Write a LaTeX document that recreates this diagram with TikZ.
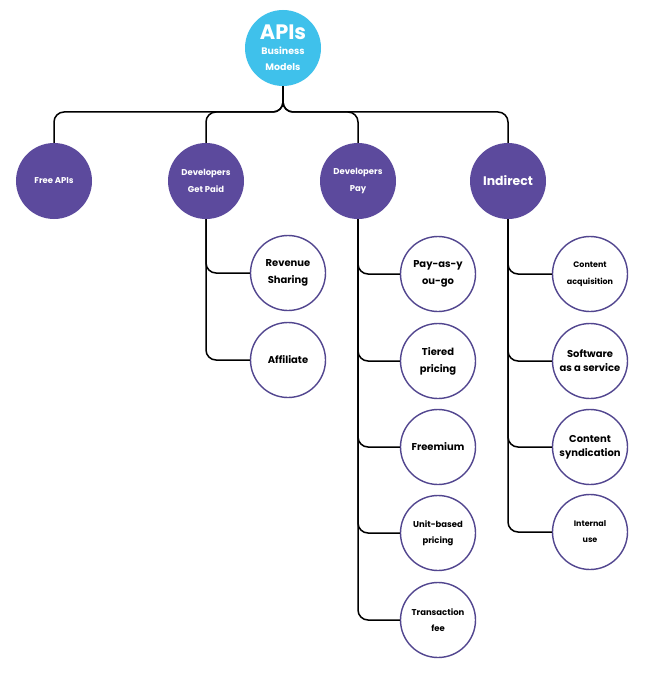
\documentclass[tikz,border=0pt]{standalone}
\usepackage{fontspec}
\setmainfont{Poppins}
\definecolor{apiblue}{HTML}{3FC1EB}
\definecolor{apipurple}{HTML}{5C4A9D}
\definecolor{ringpurple}{HTML}{52468F}
\begin{document}
\begin{tikzpicture}[x=1bp,y=-1bp,
  conn/.style={draw=black,line width=1.5bp,rounded corners=10bp},
  rootc/.style={circle,fill=apiblue,minimum size=76bp,inner sep=0pt,text=white,align=center,font=\bfseries},
  topc/.style={circle,fill=apipurple,minimum size=76bp,inner sep=0pt,text=white,align=center,font=\bfseries},
  leafc/.style={circle,draw=ringpurple,line width=1.4bp,fill=white,minimum size=75bp,inner sep=0pt,text=black,align=center,font=\bfseries}]
\useasboundingbox (0,0) rectangle (653,680);
\fill[white] (0,0) rectangle (653,680);
% root
\node[rootc,font=\bfseries\fontsize{9.5}{16}\selectfont] (root) at (283,48) {{\fontsize{21}{21}\selectfont APIs}\\[-1bp]Business\\Models};
% top level
\node[topc,font=\bfseries\fontsize{8.5}{10}\selectfont] (free) at (54,181) {Free APIs};
\node[topc,font=\bfseries\fontsize{8.5}{17}\selectfont] (paid) at (206,181) {Developers\\Get Paid};
\node[topc,font=\bfseries\fontsize{8.5}{17}\selectfont] (pay) at (358,181) {Developers\\Pay};
\node[topc,font=\bfseries\fontsize{12.5}{14}\selectfont] (ind) at (508,181) {Indirect};
\coordinate (bus) at (283,112);
% leaves: developers get paid
\node[leafc,font=\bfseries\fontsize{10}{17}\selectfont] (rev) at (288,273) {Revenue\\Sharing};
\node[leafc,font=\bfseries\fontsize{10}{12}\selectfont] (aff) at (288,360) {Affiliate};
% leaves: developers pay
\node[leafc,font=\bfseries\fontsize{10}{17}\selectfont] (payg) at (438,274) {Pay-as-y\\ou-go};
\node[leafc,font=\bfseries\fontsize{10}{17}\selectfont] (tier) at (438,361) {Tiered\\pricing};
\node[leafc,font=\bfseries\fontsize{10}{12}\selectfont] (free2) at (438,447) {Freemium};
\node[leafc,font=\bfseries\fontsize{8.5}{16}\selectfont] (unit) at (438,533) {Unit-based\\pricing};
\node[leafc,font=\bfseries\fontsize{8.5}{16}\selectfont] (trans) at (438,620) {Transaction\\fee};
% leaves: indirect
\node[leafc,font=\bfseries\fontsize{8}{17}\selectfont] (acq) at (590,274) {Content\\acquisition};
\node[leafc,font=\bfseries\fontsize{10}{14}\selectfont] (saas) at (590,361) {Software\\as a service};
\node[leafc,font=\bfseries\fontsize{10}{14}\selectfont] (synd) at (590,447) {Content\\syndication};
\node[leafc,font=\bfseries\fontsize{8}{16}\selectfont] (intl) at (590,532) {Internal\\use};
% connectors
\draw[conn] (root.south) -- (bus) -| (free.north);
\draw[conn] (root.south) -- (bus) -| (paid.north);
\draw[conn] (root.south) -- (bus) -| (pay.north);
\draw[conn] (root.south) -- (bus) -| (ind.north);
\draw[conn] (paid.south) |- (rev.west);
\draw[conn] (paid.south) |- (aff.west);
\draw[conn] (pay.south) |- (payg.west);
\draw[conn] (pay.south) |- (tier.west);
\draw[conn] (pay.south) |- (free2.west);
\draw[conn] (pay.south) |- (unit.west);
\draw[conn] (pay.south) |- (trans.west);
\draw[conn] (ind.south) |- (acq.west);
\draw[conn] (ind.south) |- (saas.west);
\draw[conn] (ind.south) |- (synd.west);
\draw[conn] (ind.south) |- (intl.west);
\end{tikzpicture}
\end{document}
